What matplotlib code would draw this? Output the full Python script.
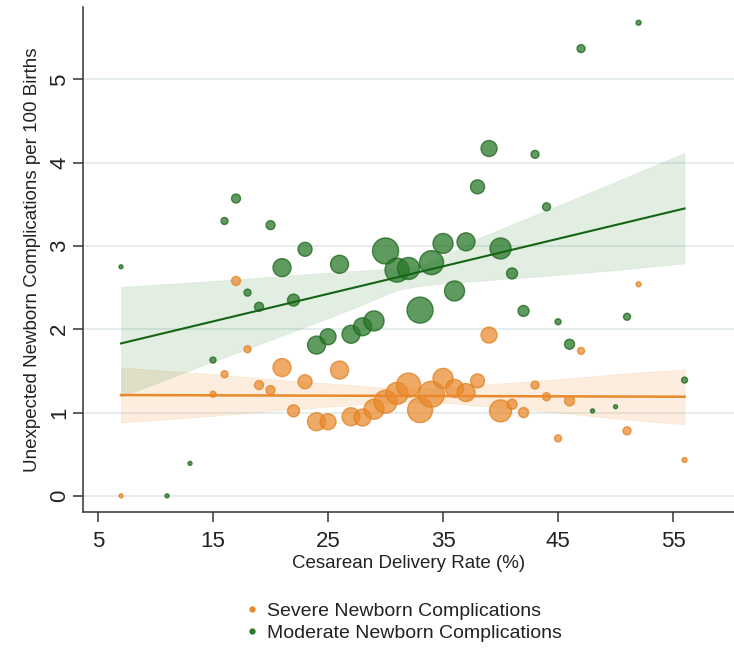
import matplotlib
matplotlib.use("Agg")
import matplotlib.pyplot as plt
from matplotlib.lines import Line2D
import numpy as np

plt.rcParams['font.family'] = ['Liberation Sans', 'DejaVu Sans']

# ---------------- data ----------------
# Moderate newborn complications (green)
mod_x = [7, 11, 13, 15, 16, 17, 18, 19, 20, 21, 22, 23, 24, 25, 26, 27, 28, 29, 30, 31,
         32, 33, 34, 35, 36, 37, 38, 39, 40, 41, 42, 43, 44, 45, 46, 47, 48, 50, 51, 52, 56]
mod_y = [2.75, 0.00, 0.39, 1.63, 3.30, 3.57, 2.44, 2.27, 3.25, 2.74, 2.35, 2.96, 1.81, 1.91,
         2.78, 1.94, 2.03, 2.10, 2.94, 2.71, 2.73, 2.23, 2.80, 3.03, 2.46, 3.05, 3.71, 4.17,
         2.97, 2.67, 2.22, 4.10, 3.47, 2.09, 1.82, 5.37, 1.02, 1.07, 2.15, 5.68, 1.39]
mod_weight = [2, 2, 2, 3, 3.5, 4.5, 3.5, 4.5, 4.5, 9, 6, 7, 9, 8, 9, 9, 9, 10, 13, 12,
              11, 13, 12, 10, 10, 9, 7, 8, 10.5, 5.5, 5.5, 4, 4, 3, 5, 4, 2, 2, 3.5, 2.5, 3]

# Severe newborn complications (orange)
sev_x = [7, 15, 16, 17, 18, 19, 20, 21, 22, 23, 24, 25, 26, 27, 28, 29, 30, 31, 32, 33,
         34, 35, 36, 37, 38, 39, 40, 41, 42, 43, 44, 45, 46, 47, 51, 52, 56]
sev_y = [0.00, 1.22, 1.46, 2.58, 1.76, 1.33, 1.27, 1.54, 1.02, 1.37, 0.89, 0.89, 1.51, 0.95,
         0.94, 1.04, 1.13, 1.23, 1.33, 1.03, 1.22, 1.41, 1.29, 1.24, 1.38, 1.93, 1.02, 1.10,
         1.00, 1.33, 1.19, 0.69, 1.14, 1.74, 0.78, 2.54, 0.43]
sev_weight = [2, 3, 3.5, 4.5, 3.5, 4.5, 4.5, 9, 6, 7, 9, 8, 9, 9, 8.5, 10, 11.5, 11, 12, 12.5,
              13, 10, 9, 9, 7, 8, 11, 5, 5, 4, 4, 3.5, 5, 3.5, 4, 2.5, 2.5]

# Fitted lines and confidence bands
mod_fit_x = [7, 56]
mod_fit_y = [1.83, 3.45]
mod_ci_x = [7, 15, 21, 27, 31, 33, 35, 38, 44, 50, 56]
mod_ci_hi = [2.51, 2.58, 2.64, 2.70, 2.73, 2.76, 2.88, 3.09, 3.43, 3.77, 4.12]
mod_ci_lo = [1.19, 1.61, 1.92, 2.24, 2.47, 2.52, 2.55, 2.58, 2.64, 2.71, 2.79]

sev_fit_x = [7, 56]
sev_fit_y = [1.21, 1.19]
sev_ci_x = [7, 15, 21, 27, 31, 35, 40, 45, 50, 56]
sev_ci_hi = [1.54, 1.46, 1.39, 1.33, 1.29, 1.30, 1.35, 1.40, 1.46, 1.52]
sev_ci_lo = [0.88, 0.96, 1.03, 1.09, 1.13, 1.12, 1.06, 1.00, 0.93, 0.86]

x_ticks = [5, 15, 25, 35, 45, 55]
y_ticks = [0, 1, 2, 3, 4, 5]
labels = ['Severe Newborn Complications', 'Moderate Newborn Complications']

# ---------------- styling ----------------
ORANGE = '#E8892B'
ORANGE_EDGE = '#E07E1A'
GREEN = '#2A782A'
GREEN_EDGE = '#1C651C'
GREEN_LINE = '#146414'


def msize(w):
    return (2 * np.asarray(w) * 0.72) ** 2


fig = plt.figure(figsize=(7.34, 6.48), dpi=100)
ax = fig.add_axes([0.1127, 0.2104, 0.8873, 0.7789])
ax.set_xlim(3.67, 60.3)
ax.set_ylim(-0.19, 5.87)

for yv in y_ticks:
    ax.axhline(yv, color='#e2eaee', lw=1.3, zorder=0)

# bands
ax.fill_between(sev_ci_x, sev_ci_lo, sev_ci_hi, color='#F3A65A', alpha=0.2,
                edgecolor='#F0B070', linewidth=0.6, zorder=1)
ax.fill_between(mod_ci_x, mod_ci_lo, mod_ci_hi, color='#3E8E3E', alpha=0.15,
                edgecolor='#8FBF8F', linewidth=0.6, zorder=1)

# points
ax.scatter(sev_x, sev_y, s=msize(sev_weight), facecolor=ORANGE, alpha=0.72,
           edgecolor=ORANGE_EDGE, linewidth=1.0, zorder=2)
ax.scatter(mod_x, mod_y, s=msize(mod_weight), facecolor=GREEN, alpha=0.75,
           edgecolor=GREEN_EDGE, linewidth=1.0, zorder=3)

# fit lines
ax.plot(sev_fit_x, sev_fit_y, color=ORANGE, lw=1.8, zorder=4)
ax.plot(mod_fit_x, mod_fit_y, color=GREEN_LINE, lw=1.5, zorder=4)

ax.set_xticks(x_ticks)
ax.set_yticks(y_ticks)
ax.set_xticklabels([str(v) for v in x_ticks], fontsize=16)
ax.set_yticklabels([str(v) for v in y_ticks], fontsize=16, rotation=90, va='center')
ax.tick_params(axis='both', length=7, width=1.1, color='#333333', labelcolor='#222222')
ax.tick_params(axis='x', pad=7)
ax.tick_params(axis='y', pad=2)

for side in ['top', 'right']:
    ax.spines[side].set_visible(False)
for side in ['left', 'bottom']:
    ax.spines[side].set_color('#333333')
    ax.spines[side].set_linewidth(1.1)

ax.set_xlabel('Cesarean Delivery Rate (%)', fontsize=13.5, color='#222222', labelpad=2)
ax.set_ylabel('Unexpected Newborn Complications per 100 Births', fontsize=13.5,
              color='#222222', labelpad=6)

handles = [Line2D([], [], ls='', marker='o', markersize=3.5, color=ORANGE),
           Line2D([], [], ls='', marker='o', markersize=3.5, color=GREEN)]
fig.legend(handles, labels, loc='center', bbox_to_anchor=(0.548, 0.040), frameon=False,
           fontsize=14, handletextpad=0.3, labelspacing=0.26, handlelength=1.0,
           labelcolor='#222222')

fig.savefig('out.png', dpi=100)
